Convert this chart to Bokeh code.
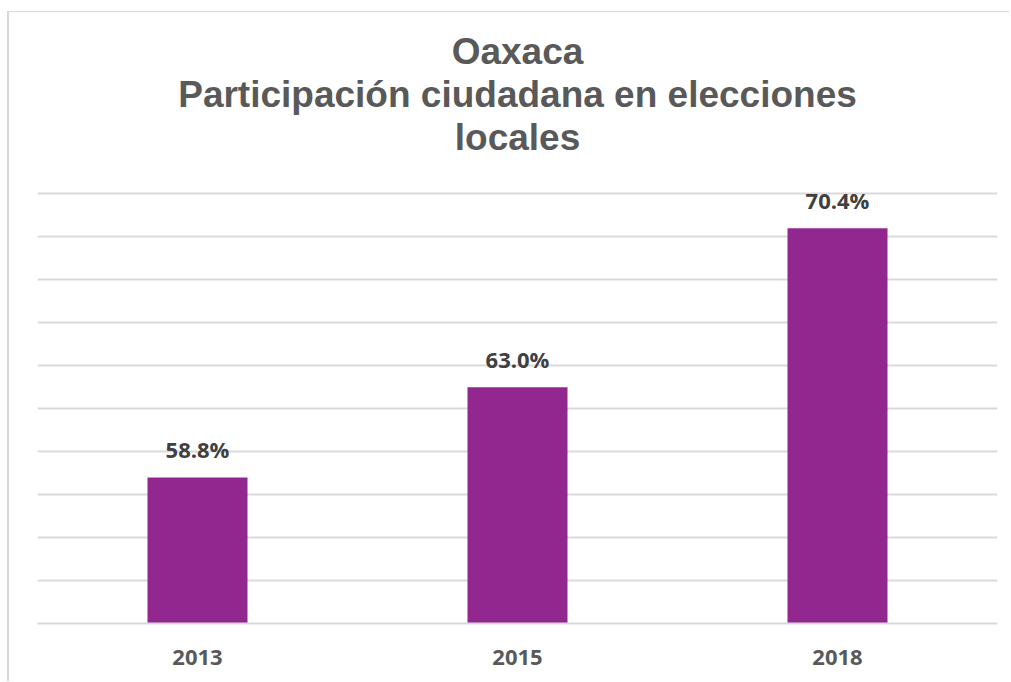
from bokeh.plotting import figure
from bokeh.models import ColumnDataSource, LabelSet, FixedTicker, Range1d, FactorRange, Title
from bokeh.core.properties import value
from bokeh.embed import file_html
from bokeh.resources import INLINE

years = ["2013", "2015", "2018"]
participation = [58.8, 63.0, 70.4]
labels = ["58.8%", "63.0%", "70.4%"]
y_ticks = [52, 54, 56, 58, 60, 62, 64, 66, 68, 70, 72]
title_lines = ["Oaxaca", "Participación ciudadana en elecciones", "locales"]

source = ColumnDataSource(dict(year=years, value=participation, label=labels))

p = figure(
    x_range=FactorRange(*years, range_padding=0),
    y_range=Range1d(52, 72.2),
    width=1002, height=670,
    output_backend="svg", toolbar_location=None,
    min_border_left=28, min_border_right=14,
    min_border_top=177, min_border_bottom=59,
)
p.margin = (12, 0, 0, 9)
p.styles = {"box-shadow": "-2px -1px 0 0 #d9d9d9", "background-color": "white"}
p.outline_line_color = None
p.background_fill_color = "white"
p.border_fill_color = "white"

# spacer between the title block and the plot area
p.add_layout(Title(text=" ", text_font_size="26px", text_line_height=1.15, standoff=0), "above")
for line in reversed(title_lines):
    p.add_layout(Title(
        text=line,
        align="center",
        text_font="Liberation Sans",
        text_font_style="bold",
        text_font_size="37px",
        text_color="#595959",
        text_line_height=1.15,
        standoff=0,
    ), "above")

p.vbar(x="year", top="value", bottom=52, width=0.3125, source=source,
       fill_color="#92278F", line_color=None)

p.add_layout(LabelSet(x="year", y="value", text="label", source=source,
                      text_align="center", text_baseline="alphabetic", y_offset=19,
                      text_font=value("Open Sans"), text_font_style="bold",
                      text_font_size="22px", text_color="#404040"))

p.yaxis.visible = False
p.ygrid.ticker = FixedTicker(ticks=y_ticks)
p.ygrid.grid_line_color = "#d9d9d9"
p.ygrid.grid_line_width = 2
p.xgrid.grid_line_color = None

ax = p.xaxis[0]
ax.axis_line_color = "#d9d9d9"
ax.axis_line_width = 2
ax.major_tick_line_color = None
ax.minor_tick_line_color = None
ax.major_tick_out = 0
ax.major_tick_in = 0
ax.major_label_standoff = 26
ax.major_label_text_font = "Open Sans"
ax.major_label_text_font_style = "bold"
ax.major_label_text_font_size = "22px"
ax.major_label_text_color = "#595959"

open("out.html", "w").write(file_html(p, INLINE))
